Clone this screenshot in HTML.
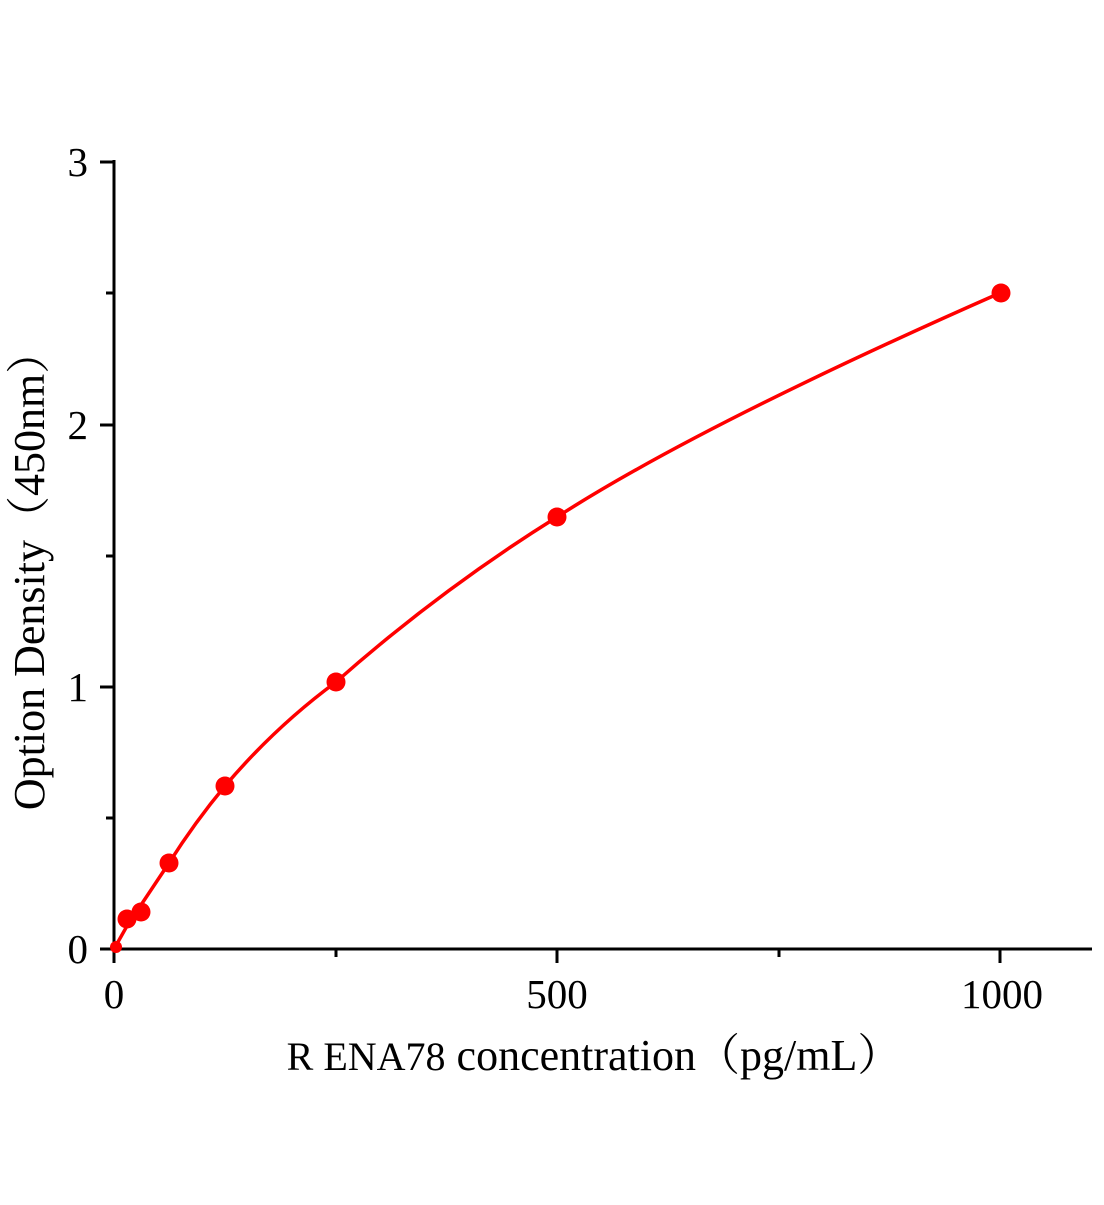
<!DOCTYPE html><html><head><style>body{margin:0;background:#fff}</style></head><body>
<svg width="1104" height="1200" xmlns="http://www.w3.org/2000/svg" font-family="Liberation Serif, serif">
<g stroke="#000" stroke-width="3" fill="none">
<line x1="114" y1="160" x2="114" y2="963"/>
<line x1="100" y1="949" x2="1092" y2="949"/>
<line x1="100" y1="162" x2="114" y2="162"/>
<line x1="100" y1="425" x2="114" y2="425"/>
<line x1="100" y1="687" x2="114" y2="687"/>
<line x1="106" y1="293" x2="114" y2="293"/>
<line x1="106" y1="556" x2="114" y2="556"/>
<line x1="106" y1="818" x2="114" y2="818"/>
<line x1="557" y1="949" x2="557" y2="963"/>
<line x1="1000" y1="949" x2="1000" y2="963"/>
<line x1="336" y1="949" x2="336" y2="957"/>
<line x1="779" y1="949" x2="779" y2="957"/>
</g>
<g font-size="41" fill="#000">
<text x="88" y="963" text-anchor="end">0</text>
<text x="88" y="701" text-anchor="end">1</text>
<text x="88" y="439" text-anchor="end">2</text>
<text x="88" y="176" text-anchor="end">3</text>
<text x="114" y="1008" text-anchor="middle">0</text>
<text x="557" y="1008" text-anchor="middle">500</text>
<text x="1002" y="1008" text-anchor="middle">1000</text>
</g>
<g font-size="44" fill="#000" font-family="Liberation Serif, Noto Serif CJK SC, serif">
<text x="594" y="1070" text-anchor="middle"><tspan font-size="40">R ENA78</tspan> concentration（pg/mL）</text>
<text transform="translate(44,570) rotate(-90)" text-anchor="middle">Option Density（450nm）</text>
</g>
<path d="M114,949 L127,926 L141,905 L169,863 Q195,822 225,786 Q275,727 336,682 Q440,590 557,517 Q700,425 1000,293" stroke="#f00" stroke-width="3.5" fill="none"/>
<g fill="#f00">
<circle cx="116" cy="947" r="6"/>
<circle cx="127" cy="919" r="9.5"/>
<circle cx="141" cy="912" r="9.5"/>
<circle cx="169" cy="863" r="9.5"/>
<circle cx="225" cy="786" r="9.5"/>
<circle cx="336" cy="682" r="9.5"/>
<circle cx="557" cy="517" r="9.5"/>
<circle cx="1001" cy="293" r="9.5"/>
</g>
</svg></body></html>
